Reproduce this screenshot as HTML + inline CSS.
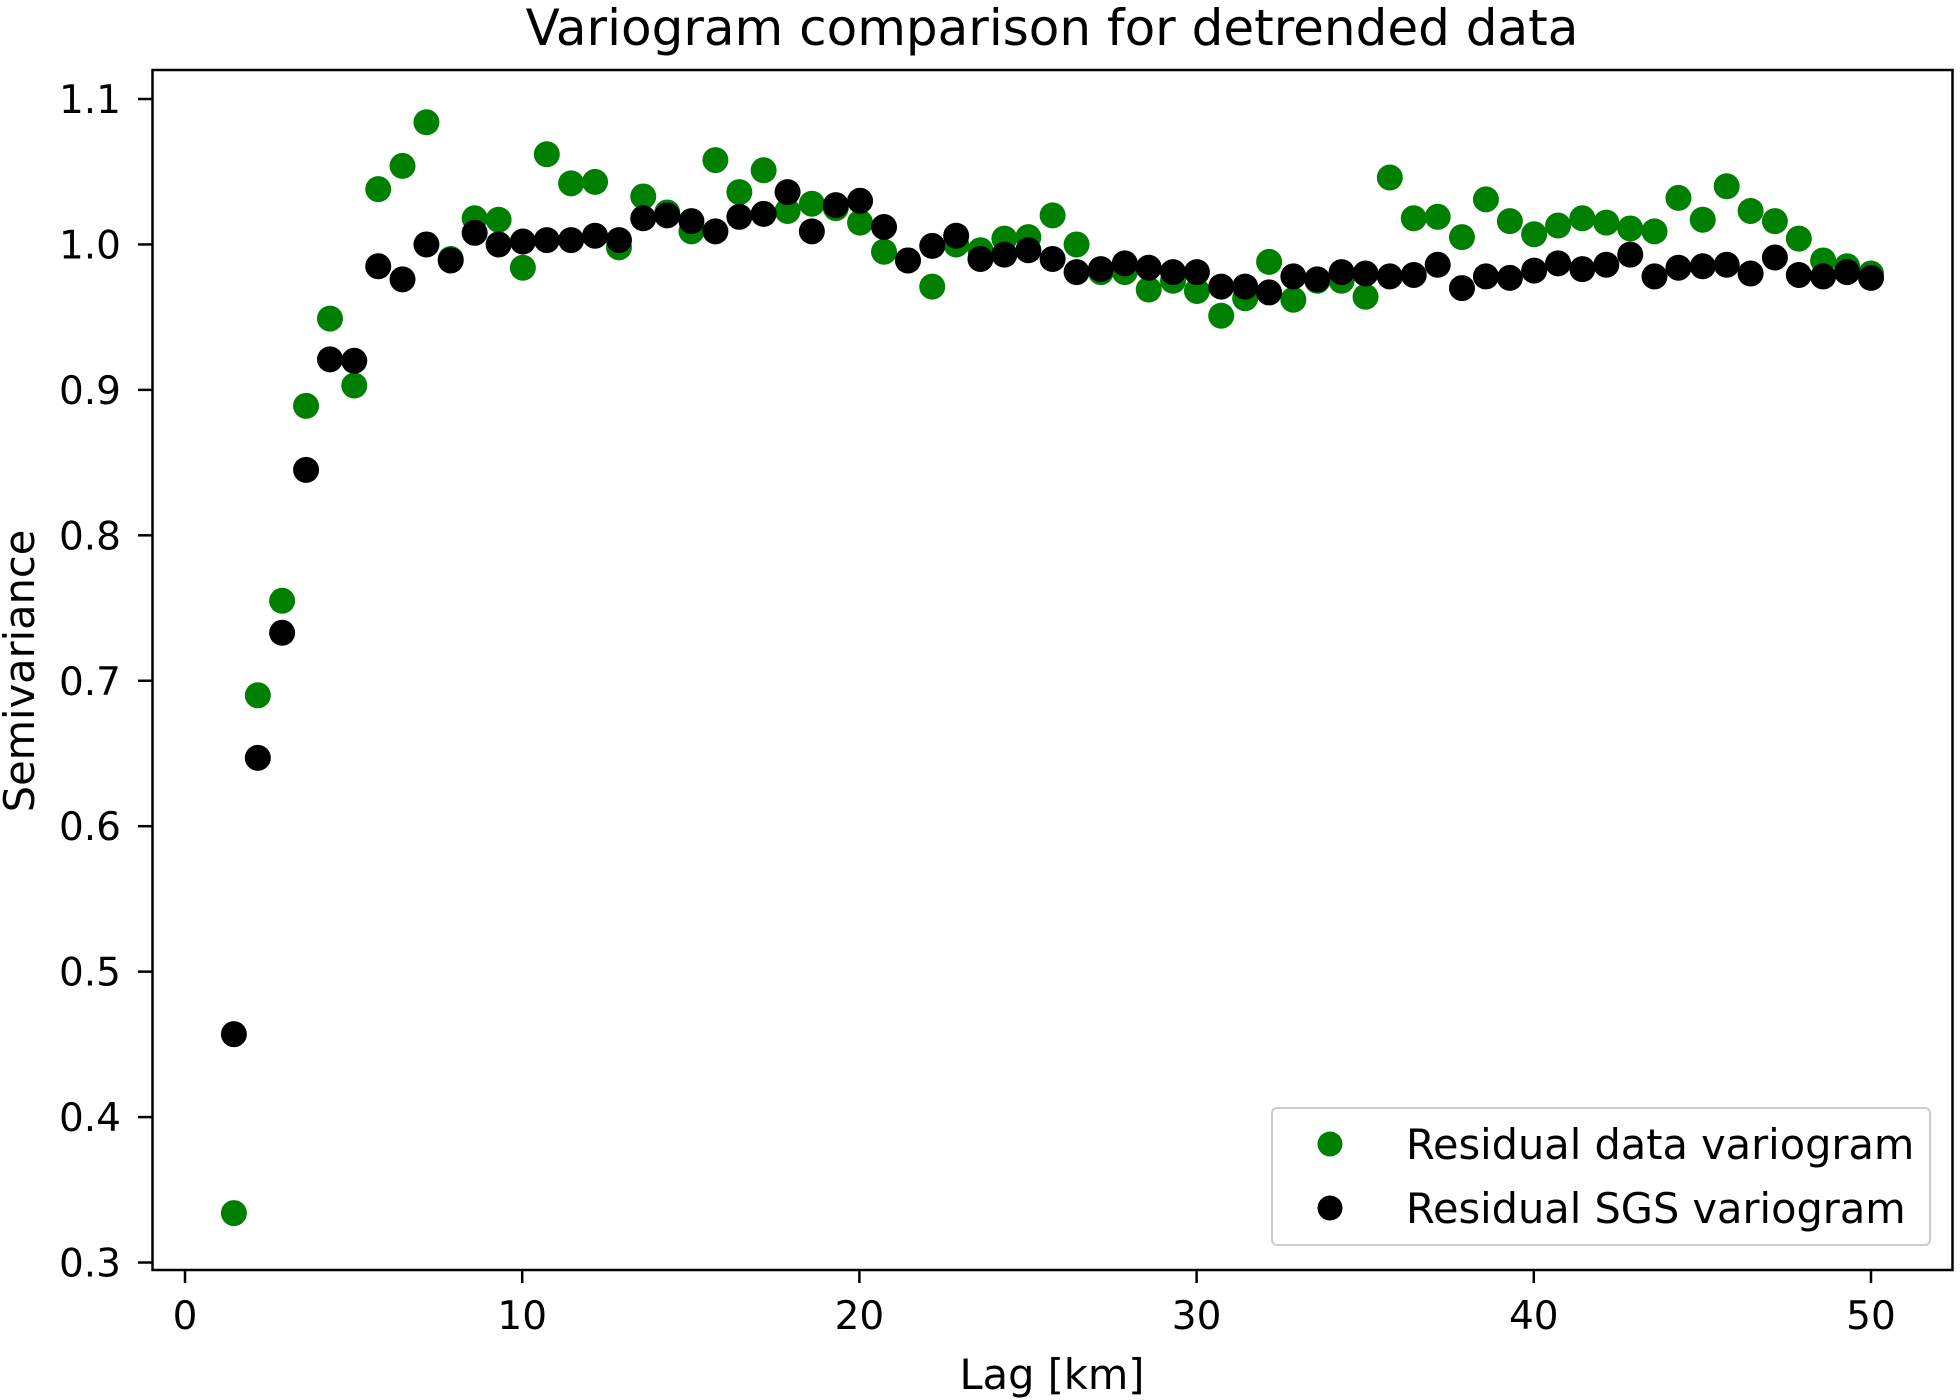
<!DOCTYPE html>
<html><head><meta charset="utf-8"><style>
html,body{margin:0;padding:0;background:#fff;}
svg{display:block;font-family:"DejaVu Sans","Liberation Sans",sans-serif;}
</style></head><body>
<svg id="chart" width="1960" height="1400" viewBox="0 0 1960 1400" xmlns="http://www.w3.org/2000/svg">
<rect width="1960" height="1400" fill="#fff"/>
<text x="1052" y="45" font-size="50" text-anchor="middle">Variogram comparison for detrended data</text>
<g id="plot"></g>
<rect x="152.5" y="70" width="1800" height="1200" fill="none" stroke="#000" stroke-width="2.5"/>
<text x="1052" y="1389" font-size="41.5" text-anchor="middle">Lag [km]</text>
<text transform="translate(34,671) rotate(-90)" font-size="41.5" text-anchor="middle">Semivariance</text>
<g>
<rect x="1272" y="1108" width="658" height="137" rx="5" fill="#fff" fill-opacity="0.8" stroke="#ccc" stroke-width="2"/>
<circle cx="1330" cy="1144" r="12.5" fill="#008000"/>
<text x="1406" y="1159" font-size="41.5">Residual data variogram</text>
<circle cx="1330" cy="1208" r="12.5" fill="#000"/>
<text x="1406" y="1223" font-size="41.5">Residual SGS variogram</text>
</g>
</svg>
<script>
const lags=[1.45,2.16,2.88,3.59,4.30,5.02,5.73,6.45,7.16,7.88,8.59,9.30,10.02,10.73,11.45,12.16,12.87,13.59,14.30,15.02,15.73,16.44,17.16,17.87,18.59,19.30,20.02,20.73,21.44,22.16,22.87,23.59,24.30,25.01,25.73,26.44,27.16,27.87,28.58,29.30,30.01,30.73,31.44,32.15,32.87,33.58,34.30,35.01,35.73,36.44,37.15,37.87,38.58,39.29,40.01,40.72,41.44,42.15,42.86,43.58,44.29,45.01,45.72,46.43,47.15,47.86,48.58,49.29,50.00];
const dataVario=[0.334,0.690,0.755,0.889,0.949,0.903,1.038,1.054,1.084,0.990,1.018,1.017,0.984,1.062,1.042,1.043,0.998,1.033,1.022,1.009,1.058,1.036,1.051,1.023,1.028,1.025,1.015,0.995,0.989,0.971,1.000,0.996,1.004,1.005,1.020,1.000,0.981,0.981,0.969,0.975,0.968,0.951,0.963,0.988,0.962,0.975,0.975,0.964,1.046,1.018,1.019,1.005,1.031,1.016,1.007,1.013,1.018,1.015,1.011,1.009,1.032,1.017,1.040,1.023,1.016,1.004,0.989,0.985,0.980];
const sgsVario=[0.457,0.647,0.733,0.845,0.921,0.920,0.985,0.976,1.000,0.989,1.008,1.000,1.002,1.003,1.003,1.006,1.003,1.018,1.020,1.016,1.009,1.019,1.021,1.036,1.009,1.027,1.030,1.012,0.989,0.999,1.006,0.990,0.993,0.996,0.990,0.981,0.983,0.987,0.984,0.981,0.981,0.971,0.971,0.967,0.978,0.976,0.981,0.980,0.978,0.979,0.986,0.970,0.978,0.977,0.982,0.987,0.983,0.986,0.993,0.978,0.984,0.985,0.986,0.980,0.991,0.979,0.978,0.981,0.977];
const xTicks=[0,10,20,30,40,50];
const yTicks=[0.3,0.4,0.5,0.6,0.7,0.8,0.9,1.0,1.1];
const yTickLabels=["0.3","0.4","0.5","0.6","0.7","0.8","0.9","1.0","1.1"];

const NS="http://www.w3.org/2000/svg";
function xs(v){return 185+v*33.72;}
function ys(v){return 99+(1.1-v)*1454.4;}
const g=document.getElementById('plot');
function mk(t,a){const e=document.createElementNS(NS,t);for(const k in a)e.setAttribute(k,a[k]);return e;}
xTicks.forEach(function(t){
  const l=mk('line',{x1:xs(t),x2:xs(t),y1:1270,y2:1283,stroke:'#000','stroke-width':2.5});
  
  
  g.appendChild(l);
  const tx=mk('text',{x:xs(t),y:1329,'font-size':39,'text-anchor':'middle'});
  
  
  tx.textContent=String(t);g.appendChild(tx);
});
yTicks.forEach(function(t,i){
  const l=mk('line',{x1:138,x2:152.5,y1:ys(t),y2:ys(t),stroke:'#000','stroke-width':2.5});
  
  
  g.appendChild(l);
  const tx=mk('text',{x:121,y:ys(t)+14,'font-size':39,'text-anchor':'end'});
  
  
  tx.textContent=yTickLabels[i];g.appendChild(tx);
});
lags.forEach(function(x,i){
  const c=mk('circle',{cx:xs(x),cy:ys(dataVario[i]),r:13,fill:'#008000'});
  
  
  g.appendChild(c);
});
lags.forEach(function(x,i){
  const c=mk('circle',{cx:xs(x),cy:ys(sgsVario[i]),r:13,fill:'#000'});
  
  
  g.appendChild(c);
});
</script>
</body></html>
